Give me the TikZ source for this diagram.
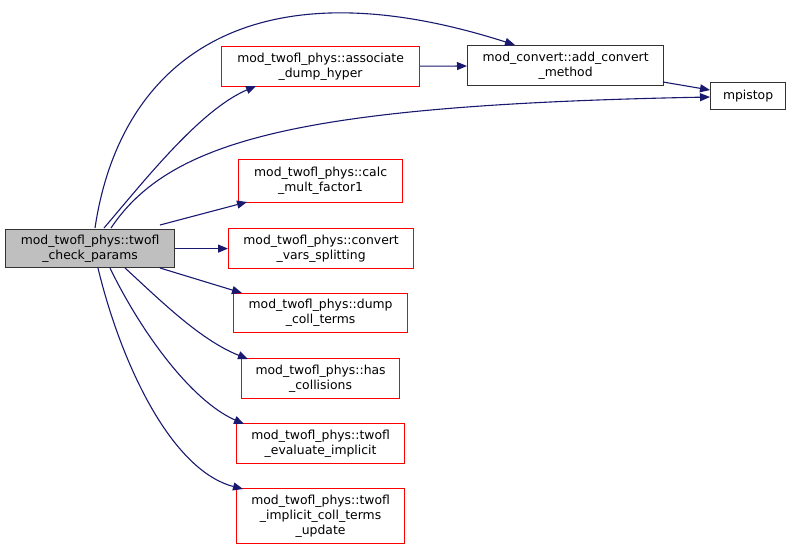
\documentclass[tikz,border=0pt]{standalone}
\usepackage{fontspec}
\setmainfont{DejaVu Sans}
\usetikzlibrary{arrows.meta}
\definecolor{edge}{HTML}{191970}
\definecolor{mainfill}{HTML}{BFBFBF}
\definecolor{fnred}{HTML}{FF0000}
\definecolor{extline}{HTML}{333333}
\begin{document}
\begin{tikzpicture}[x=1pt,y=-1pt,
  box/.style={line width=1.2pt,inner sep=0pt,align=center,font=\fontsize{12.4pt}{15pt}\selectfont,anchor=north west},
  fn/.style={box,draw=fnred},
  ext/.style={box,draw=extline},
  call/.style={draw=edge,line width=1.1pt,-{Triangle[length=10pt,width=8pt,fill=edge]}}]
\useasboundingbox (0,0) rectangle (791,551);
\node[ext,fill=mainfill,minimum width=169pt,minimum height=38pt] (main) at (5,229) {mod\_twofl\_phys::twofl\\\_check\_params};
\node[fn,minimum width=198pt,minimum height=40pt] (assoc) at (221,46) {mod\_twofl\_phys::associate\\\_dump\_hyper};
\node[ext,minimum width=196pt,minimum height=40pt] (addc) at (467,45) {mod\_convert::add\_convert\\\_method};
\node[ext,minimum width=75pt,minimum height=27pt] (mpi) at (710,82) {mpistop};
\node[fn,minimum width=164pt,minimum height=43pt] (calc) at (238,159) {mod\_twofl\_phys::calc\\\_mult\_factor1};
\node[fn,minimum width=185pt,minimum height=40pt] (conv) at (228,228) {mod\_twofl\_phys::convert\\\_vars\_splitting};
\node[fn,minimum width=174pt,minimum height=39pt] (dump) at (233,293) {mod\_twofl\_phys::dump\\\_coll\_terms};
\node[fn,minimum width=158pt,minimum height=40pt] (has) at (241,358) {mod\_twofl\_phys::has\\\_collisions};
\node[fn,minimum width=168pt,minimum height=40pt] (eval) at (236,423) {mod\_twofl\_phys::twofl\\\_evaluate\_implicit};
\node[fn,minimum width=168pt,minimum height=55pt] (impl) at (236,488) {mod\_twofl\_phys::twofl\\\_implicit\_coll\_terms\\\_update};
\coordinate (m1) at (95,228);
\coordinate (m2) at (111,228);
\coordinate (m3) at (104,228);
\coordinate (a1) at (256,86);
\coordinate (c1) at (515,45);
\coordinate (p1) at (710,97);
\coordinate (c2) at (663,82);
\coordinate (p2) at (710,90);
\coordinate (m4) at (160,225);
\coordinate (k4) at (247,202);
\coordinate (m5) at (160,268);
\coordinate (k5) at (242,293);
\coordinate (m6) at (125,268);
\coordinate (k6) at (248,359);
\coordinate (m7) at (110,268);
\coordinate (k7) at (244,424);
\coordinate (m8) at (98,268);
\coordinate (k8) at (243,489);
\draw[call] (m1) .. controls (120,60) and (250,-40) .. (c1);
\draw[call] (m3) .. controls (145,180) and (200,110) .. (a1);
\draw[call] (m2) .. controls (170,140) and (300,105) .. (p1);
\draw[call] (assoc) -- (addc);
\draw[call] (c2) -- (p2);
\draw[call] (m4) -- (k4);
\draw[call] (main) -- (conv);
\draw[call] (m5) -- (k5);
\draw[call] (m6) .. controls (160,300) and (200,340) .. (k6);
\draw[call] (m7) .. controls (140,330) and (190,400) .. (k7);
\draw[call] (m8) .. controls (120,360) and (170,470) .. (k8);
\end{tikzpicture}
\end{document}
